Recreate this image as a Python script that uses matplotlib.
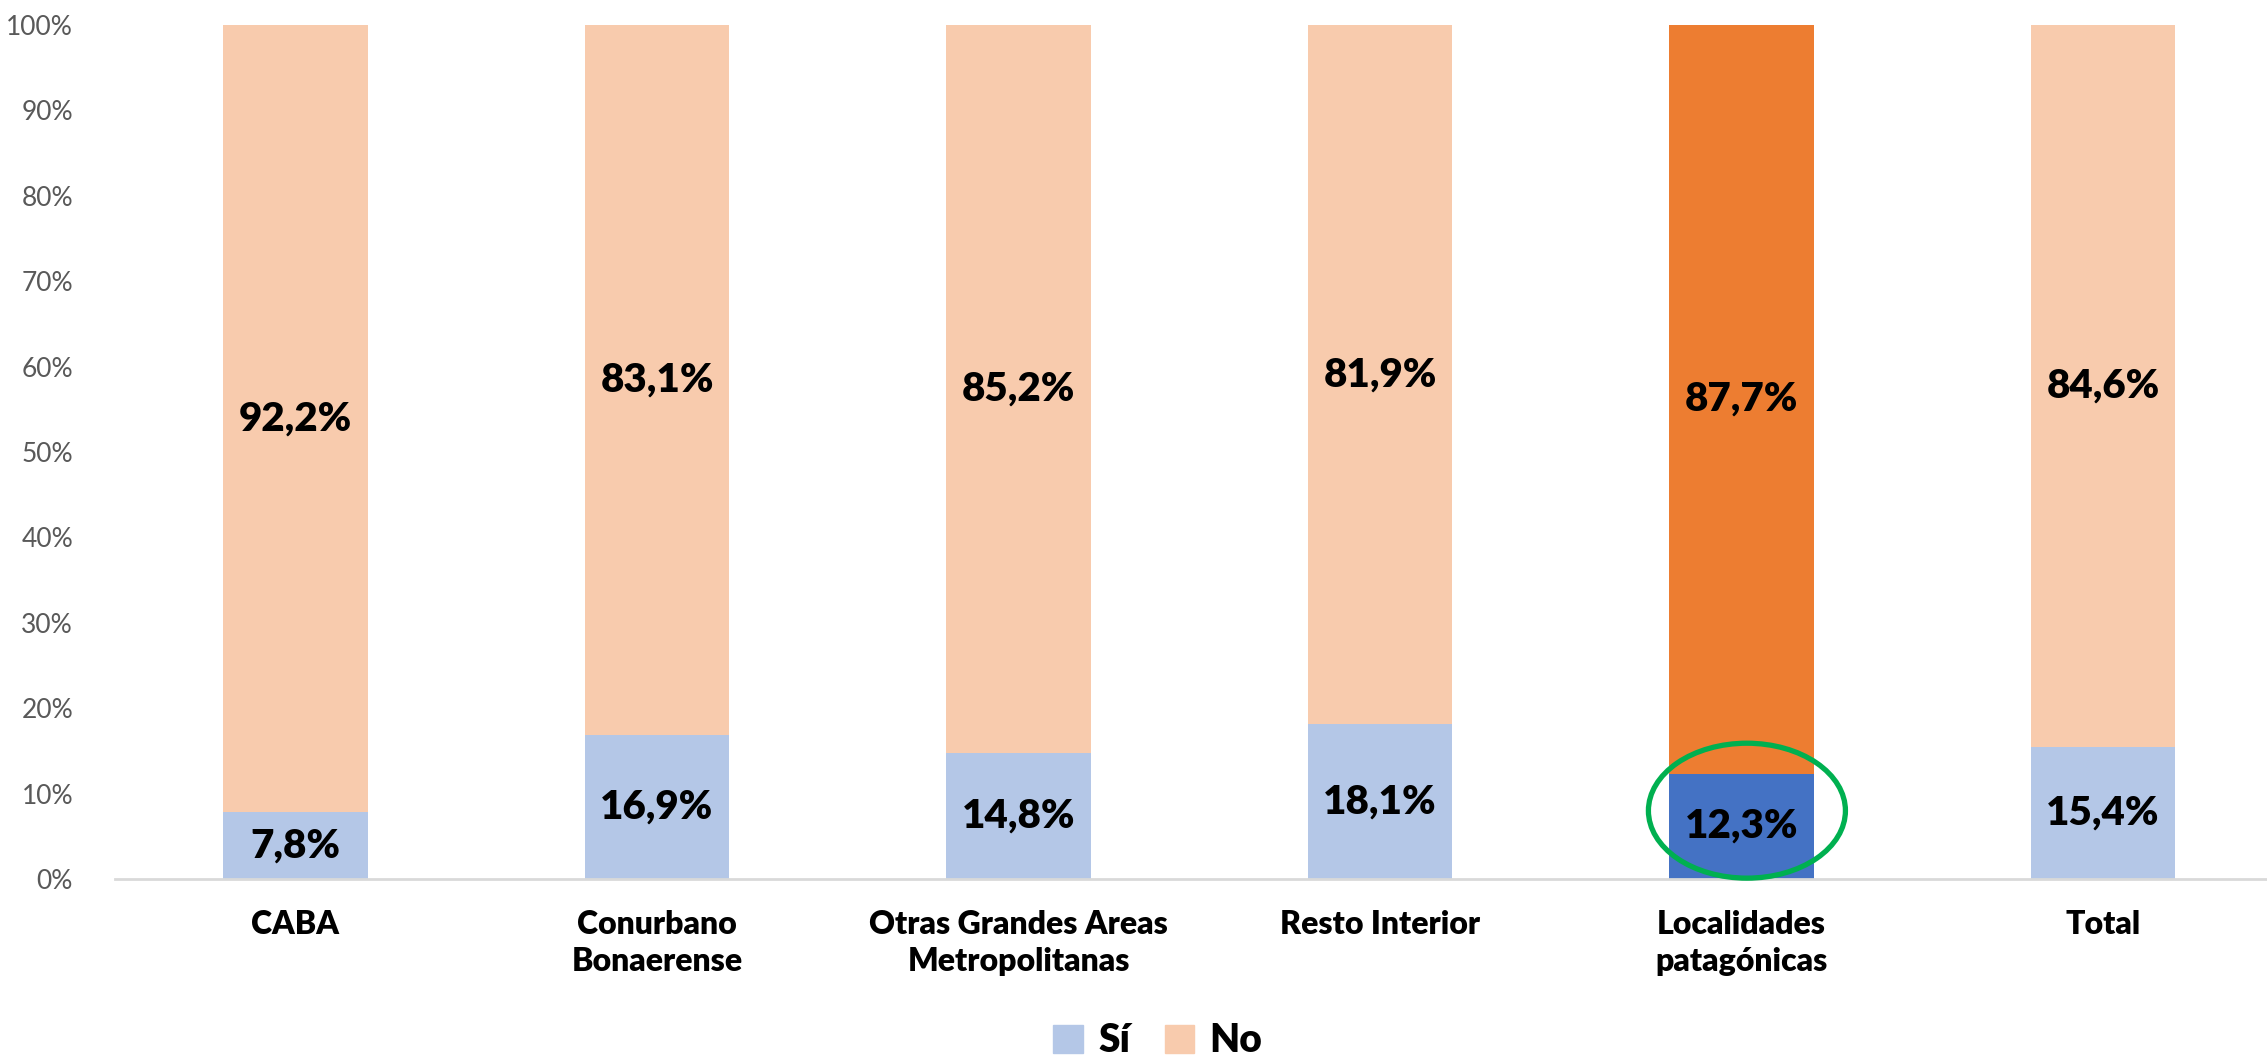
import matplotlib
matplotlib.use("Agg")
import matplotlib.pyplot as plt
from matplotlib.patches import Ellipse, Patch

plt.rcParams['font.family'] = ['Lato', 'DejaVu Sans']

categorias = ["CABA", "Conurbano\nBonaerense", "Otras Grandes Areas\nMetropolitanas",
              "Resto Interior", "Localidades\npatagónicas", "Total"]
si = [7.8, 16.9, 14.8, 18.1, 12.3, 15.4]
no = [92.2, 83.1, 85.2, 81.9, 87.7, 84.6]
destacado = 4  # Localidades patagónicas

color_si = "#b4c7e7"
color_no = "#f8cbad"
color_si_dest = "#4472c4"
color_no_dest = "#ed7d31"

fig = plt.figure(figsize=(22.67, 10.6), dpi=100)
ax = fig.add_axes([114.75 / 2267, 181 / 1060, 2169 / 2267, 854 / 1060])

x = list(range(len(categorias)))
c_si = [color_si_dest if i == destacado else color_si for i in x]
c_no = [color_no_dest if i == destacado else color_no for i in x]

ax.bar(x, si, width=0.4, color=c_si)
ax.bar(x, no, width=0.4, bottom=si, color=c_no)

for i in x:
    ax.text(i, si[i] / 2, f"{si[i]:.1f}%".replace(".", ","), ha="center", va="center",
            fontsize=29, fontweight="heavy", color="black")
    ax.text(i, si[i] + no[i] / 2, f"{no[i]:.1f}%".replace(".", ","), ha="center", va="center",
            fontsize=29, fontweight="heavy", color="black")

# círculo verde
ax.add_patch(Ellipse((destacado + 0.015, 8.0), 0.545, 15.8, fill=False,
                     edgecolor="#00b050", linewidth=3.8, clip_on=False, zorder=5))

ax.set_xlim(-0.5, len(categorias) - 0.5)
ax.set_ylim(0, 100)
ax.set_yticks(range(0, 101, 10))
ax.set_yticklabels([f"{v}%" for v in range(0, 101, 10)])
ax.set_xticks(x)
ax.set_xticklabels(categorias, fontsize=23, fontweight="heavy", linespacing=1.35)
ax.tick_params(axis="y", length=0, labelsize=19, labelcolor="#595959", pad=30)
ax.tick_params(axis="x", length=0, pad=22)

for s in ["top", "right", "left"]:
    ax.spines[s].set_visible(False)
ax.spines["bottom"].set_color("#d9d9d9")
ax.spines["bottom"].set_linewidth(2)

handles = [Patch(color=color_si, label="Sí"), Patch(color=color_no, label="No")]
fig.legend(handles=handles, loc="center", bbox_to_anchor=(1158 / 2267, 1 - 1041 / 1060),
           ncol=2, frameon=False, prop={"size": 28, "weight": "heavy"},
           handlelength=0.75, handleheight=0.75, handletextpad=0.4, columnspacing=0.9)

fig.savefig("out.png", dpi=100)
